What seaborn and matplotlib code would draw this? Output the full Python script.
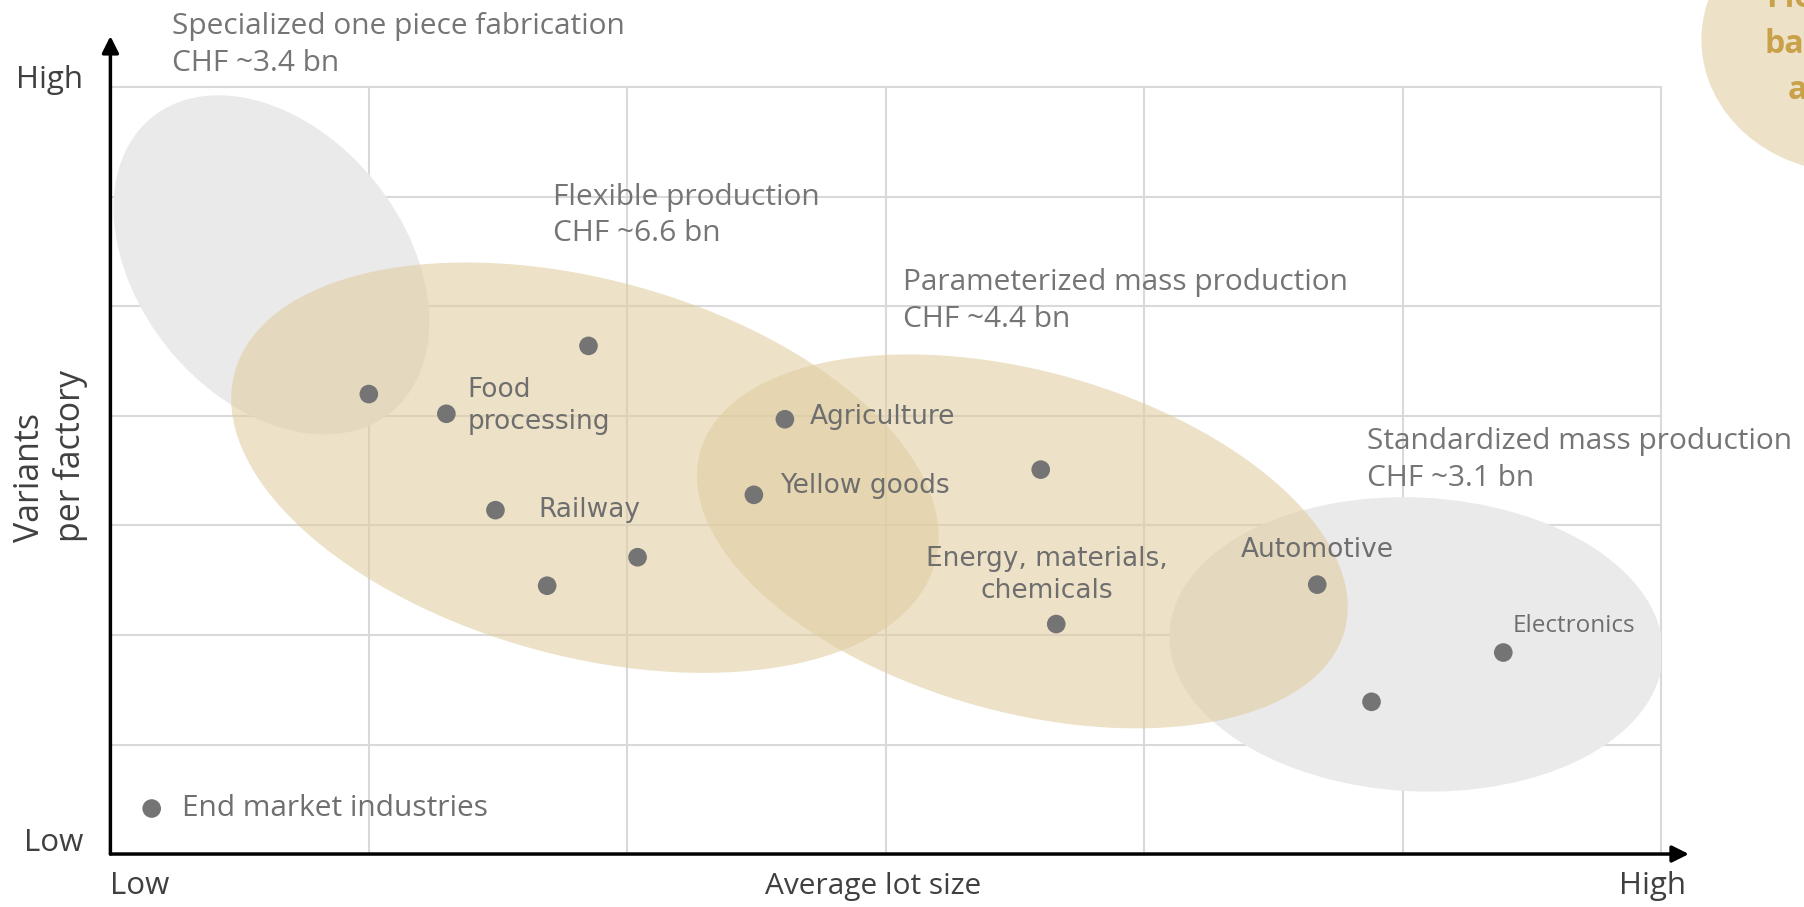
import matplotlib.pyplot as plt
import matplotlib.transforms as mtransforms
from matplotlib.patches import Ellipse
import seaborn as sns

# %% Data (grid units: lot size 0-6, variants per factory 0-7)

lot_size = [1.00, 1.30, 1.85, 1.49, 1.69, 2.04, 2.61, 2.49, 3.60, 3.66, 4.67, 4.88, 5.39]
variants = [4.20, 4.02, 4.64, 3.14, 2.45, 2.71, 3.97, 3.28, 3.51, 2.10, 2.46, 1.39, 1.84]
industry = ['', 'Food\nprocessing', '', 'Railway', '', '', 'Agriculture', 'Yellow goods',
            '', 'Energy, materials,\nchemicals', 'Automotive', '', 'Electronics']

clusters = ['Specialized one piece fabrication', 'Flexible production',
            'Parameterized mass production', 'Standardized mass production']
cluster_value_bn = [3.4, 6.6, 4.4, 3.1]

# %% Plot

sns.set_style('white')
plt.rcParams['font.family'] = ['Open Sans', 'DejaVu Sans']

fig = plt.figure(figsize=(18.04, 9.07), dpi=100)
ax = fig.add_axes([0.0612, 0.0584, 0.8595, 0.8452])
ax.set_xlim(0, 6)
ax.set_ylim(0, 7)
ax.set_xticks(range(7))
ax.set_yticks(range(8))
ax.set_xticklabels([])
ax.set_yticklabels([])
ax.tick_params(length=0)
ax.grid(True, color='#D9D9D9', lw=1.5)
ax.set_axisbelow(True)
for ln in ax.get_xgridlines() + ax.get_ygridlines():
    ln.set_clip_on(False)
sns.despine(ax=ax, left=True, bottom=True)

# ellipses drawn in a space where one x unit == one y unit on screen
k = (0.8452 * 907 / 7) / (0.8595 * 1804 / 6)
tr = mtransforms.Affine2D().scale(1, 1 / k) + ax.transData

gray = '#EAEAEA'
tan = '#E0CDA0'
for cx, cy, w, h, ang in [(0.623, 5.38, 1.469, 1.028, -51), (5.053, 1.914, 1.911, 1.137, -2.8)]:
    ax.add_patch(Ellipse((cx, cy * k), w, h, angle=ang, transform=tr, fc=gray, ec='none', zorder=1))
for cx, cy, w, h, ang in [(1.836, 3.528, 2.809, 1.458, -15.2), (3.529, 2.855, 2.588, 1.319, -15.5),
                          (6.737, 7.436, 1.161, 1.029, 0)]:
    ax.add_patch(Ellipse((cx, cy * k), w, h, angle=ang, transform=tr, fc=tan, ec='none',
                         alpha=0.58, zorder=2, clip_on=False))

ax.text(6.78, 7.39, 'Flexible and\nbatch-based\nassembly', ha='center', va='center',
        fontsize=23, fontweight='bold', color='#C9A14A', linespacing=1.52, clip_on=False)

sns.scatterplot(x=lot_size, y=variants, color='#747474', s=180, edgecolor='none',
                ax=ax, zorder=5, label='End market industries')
ax.legend(loc='lower left', bbox_to_anchor=(0.017, 0.04), frameon=False, fontsize=21.5,
          handlelength=1, handletextpad=0.5, borderpad=0, borderaxespad=0, labelcolor='#6F6F6F')

# point labels, offsets in pixels from their point
offsets = {'Food\nprocessing': (21, 8, 'left'), 'Railway': (43, 0, 'left'),
           'Agriculture': (25, 2, 'left'), 'Yellow goods': (26, 9, 'left'),
           'Energy, materials,\nchemicals': (-9, 49, 'center'), 'Automotive': (0, 35, 'center'),
           'Electronics': (9, 27, 'left')}
for x, y, name in zip(lot_size, variants, industry):
    if not name:
        continue
    dx, dy, ha = offsets[name]
    if name == 'Electronics':
        fam, size = 'Open Sans', 17.5
    else:
        fam, size = 'DejaVu Sans', 19
    ax.annotate(name, (x, y), xytext=(dx, dy), textcoords='offset pixels', ha=ha, va='center',
                multialignment=ha, family=fam, fontsize=size, color='#6E6E6E', zorder=6,
                linespacing=1.3)

# cluster labels
cluster_pos = [(0.24, 7.39), (1.713, 5.83), (3.066, 5.05), (4.864, 3.60)]
for (x, y), name, v in zip(cluster_pos, clusters, cluster_value_bn):
    ax.text(x, y, f'{name}\nCHF ~{v} bn', ha='left', va='center', fontsize=21.5,
            color='#757575', zorder=6, linespacing=1.35, clip_on=False)

# axes with arrows
arrow = dict(arrowstyle='-|>', color='black', lw=2.5, mutation_scale=25, shrinkA=0, shrinkB=0)
ax.annotate('', xy=(1.018, 0), xytext=(0, 0), xycoords='axes fraction', arrowprops=arrow)
ax.annotate('', xy=(0, 1.067), xytext=(0, 0), xycoords='axes fraction', arrowprops=arrow)

lab = dict(fontsize=22.5, color='#404040')
ax.text(0, -0.294, 'Low', ha='left', va='center', **lab)
ax.text(2.95, -0.294, 'Average lot size', ha='center', va='center', fontsize=21.5, color='#404040')
ax.text(6.097, -0.294, 'High', ha='right', va='center', **lab)
ax.text(-0.105, 7.07, 'High', ha='right', va='center', **lab)
ax.text(-0.105, 0.1, 'Low', ha='right', va='center', **lab)
ax.text(-0.232, 3.635, 'Variants\nper factory', rotation=90, ha='center', va='center',
        multialignment='left', fontsize=24.4, color='#404040')

fig.savefig('out.png', dpi=100)
